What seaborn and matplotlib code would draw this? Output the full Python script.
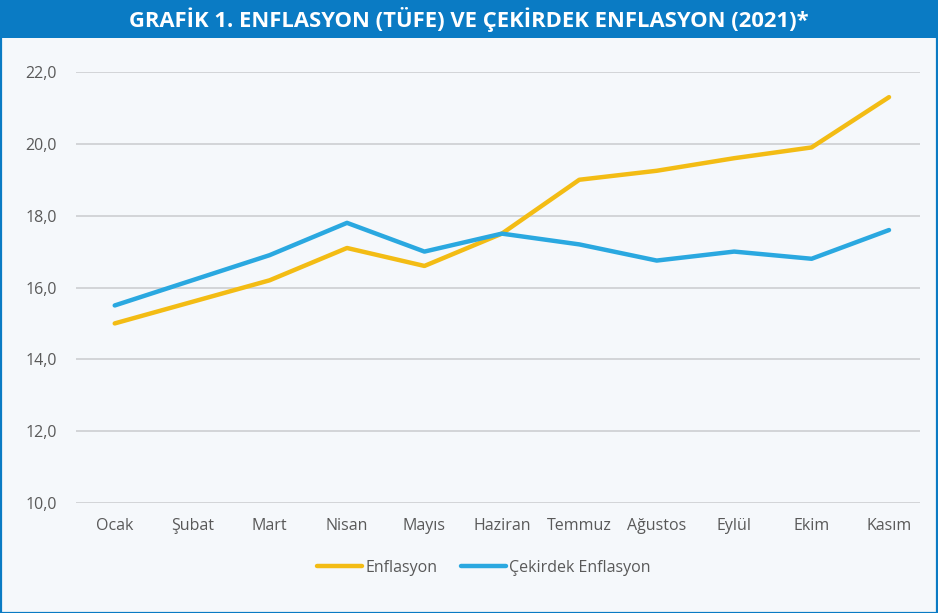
import matplotlib
matplotlib.use("Agg")
import matplotlib.pyplot as plt
import matplotlib.patches as mpatches
import seaborn as sns
import pandas as pd
import numpy as np

months = ["Ocak", "Şubat", "Mart", "Nisan", "Mayıs", "Haziran", "Temmuz",
          "Ağustos", "Eylül", "Ekim", "Kasım"]
enflasyon = [15.0, 15.6, 16.2, 17.1, 16.6, 17.5, 19.0, 19.25, 19.6, 19.9, 21.3]
cekirdek = [15.5, 16.2, 16.9, 17.8, 17.0, 17.5, 17.2, 16.75, 17.0, 16.8, 17.6]
series_names = ["Enflasyon", "Çekirdek Enflasyon"]
yticks = [10, 12, 14, 16, 18, 20, 22]
title = "GRAFİK 1. ENFLASYON (TÜFE) VE ÇEKİRDEK ENFLASYON (2021)*"

colors = {"Enflasyon": "#F3BC14", "Çekirdek Enflasyon": "#2AA8E0"}
bg = "#F5F8FB"
frame_blue = "#0A7BC4"

df = pd.DataFrame({
    "pos": list(range(len(months))) * 2,
    "value": enflasyon + cekirdek,
    "series": [series_names[0]] * len(months) + [series_names[1]] * len(months),
})

sns.set_theme(style="white")
plt.rcParams["font.family"] = ["Open Sans", "DejaVu Sans"]

fig = plt.figure(figsize=(9.38, 6.13), dpi=100, facecolor=bg)
ax = fig.add_axes([76 / 938, 1 - 503 / 613, (920 - 76) / 938, (503 - 72) / 613])
ax.set_facecolor(bg)

sns.lineplot(data=df, x="pos", y="value", hue="series", hue_order=series_names,
             palette=colors, linewidth=3.2, ax=ax, legend=False, sort=False,
             solid_capstyle="round")

ax.set_ylim(10, 22)
ax.set_xlim(-0.5, 10.4)
ax.set_yticks(yticks)
ax.set_yticklabels([f"{v:.1f}".replace(".", ",") for v in yticks])
ax.set_xticks(range(len(months)))
ax.set_xticklabels(months)
ax.tick_params(axis="both", length=0, labelsize=11.5, colors="#595959")
ax.tick_params(axis="y", pad=14)
ax.tick_params(axis="x", pad=11)
ax.set_xlabel("")
ax.set_ylabel("")
for s in ax.spines.values():
    s.set_visible(False)
ax.yaxis.grid(True, color="#D3D5D8", linewidth=1.4)
ax.set_axisbelow(True)

# legend
handles = [plt.Line2D([0], [0], color=colors[n], lw=3.2, solid_capstyle="round") for n in series_names]
fig.legend(handles, series_names, loc="center", bbox_to_anchor=(0.5 + 15 / 938, 1 - 568 / 613),
           ncol=2, frameon=False, fontsize=11.5, handlelength=2.8, handletextpad=0.2,
           columnspacing=1.5, labelcolor="#595959")

# title banner and frame
fig.patches.append(mpatches.Rectangle((0, 1 - 38 / 613), 1, 38 / 613, transform=fig.transFigure,
                                      facecolor=frame_blue, edgecolor="none", zorder=0))
fig.patches.append(mpatches.Rectangle((0.5 / 938, 0.5 / 613), 1 - 2 / 938, 1 - 2 / 613,
                                      transform=fig.transFigure, facecolor="none",
                                      edgecolor=frame_blue, linewidth=1.6, zorder=5))
fig.text(0.5, 1 - 19 / 613, title, ha="center", va="center", color="white",
         fontsize=15.8, fontweight="bold")

fig.savefig("out.png", dpi=100, facecolor=bg)
